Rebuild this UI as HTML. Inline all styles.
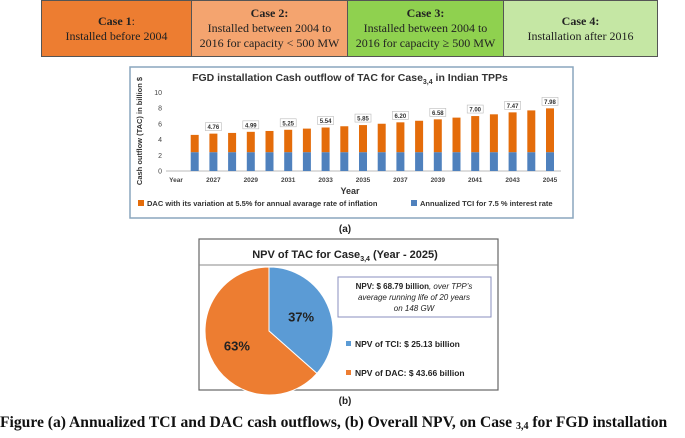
<!DOCTYPE html>
<html><head><meta charset="utf-8"><style>
body{margin:0;width:685px;height:438px;background:#fff;position:relative;overflow:hidden;font-family:"Liberation Sans",sans-serif}
.case{position:absolute;top:0;height:57px;border:1px solid #555;box-sizing:border-box;font-family:"Liberation Serif",serif;font-size:12px;text-align:center;display:flex;align-items:center;justify-content:center;line-height:15px;color:#222}
</style></head><body>
<div class="case" style="left:41px;width:151px;background:#ED7D31"><div><b>Case 1</b>:<br>Installed before 2004</div></div>
<div class="case" style="left:191px;width:157px;background:#F4A46F"><div><b>Case 2:</b><br>Installed between 2004 to<br>2016 for capacity &lt; 500 MW</div></div>
<div class="case" style="left:347px;width:157px;background:#8FD14F"><div><b>Case 3:</b><br>Installed between 2004 to<br>2016 for capacity ≥ 500 MW</div></div>
<div class="case" style="left:503px;width:155px;background:#C5E7A4"><div><b>Case 4:</b><br>Installation after 2016</div></div>

<svg id="chart" width="685" height="438" style="position:absolute;left:0;top:0" font-family="Liberation Sans, sans-serif">
<rect x="130" y="67" width="443" height="151" fill="#fff" stroke="#8aa6bd" stroke-width="1.5"/>
<text x="350" y="81" text-anchor="middle" font-size="10.5" font-weight="bold" fill="#333">FGD installation Cash outflow of TAC for Case<tspan font-size="7" dy="3">3,4</tspan><tspan dy="-3"> in Indian TPPs</tspan></text>
<text transform="translate(142,131) rotate(-90)" text-anchor="middle" font-size="7.5" font-weight="bold" fill="#333">Cash outflow (TAC)  in billion $</text>
<text x="350" y="194" text-anchor="middle" font-size="9" font-weight="bold" fill="#333">Year</text>
<g id="bars"></g>
<rect x="138" y="200" width="6" height="6" fill="#E46C0A"/>
<text x="147" y="206" font-size="7.5" font-weight="bold" fill="#333">DAC with its variation at 5.5% for annual avarage rate of inflation</text>
<rect x="411" y="200" width="6" height="6" fill="#4F81BD"/>
<text x="420" y="206" font-size="7.5" font-weight="bold" fill="#333">Annualized TCI for 7.5 % interest rate</text>
<text x="345" y="232" text-anchor="middle" font-size="10" font-weight="bold" fill="#222">(a)</text>

<rect x="199" y="239" width="299" height="151" fill="#fff" stroke="#666" stroke-width="1.2"/>
<line x1="199" y1="265" x2="498" y2="265" stroke="#888"/>
<text x="345" y="258" text-anchor="middle" font-size="11" font-weight="bold" fill="#222">NPV of TAC for Case<tspan font-size="7" dy="3">3,4</tspan><tspan dy="-3">  (Year - 2025)</tspan></text>
<g id="pie"></g>
<rect x="338" y="277" width="153" height="40" fill="#fff" stroke="#8a8fbf"/>
<text x="414" y="289" text-anchor="middle" font-size="8" fill="#222"><tspan font-weight="bold">NPV: $ 68.79 billion</tspan><tspan font-style="italic">, over TPP’s</tspan><tspan x="414" dy="11" font-style="italic">average running  life of 20 years</tspan><tspan x="414" dy="11" font-style="italic">on 148 GW</tspan></text>
<rect x="346" y="341" width="5" height="5" fill="#5B9BD5"/>
<text x="355" y="347" font-size="8.5" font-weight="bold" fill="#222">NPV of TCI:  $ 25.13 billion</text>
<rect x="346" y="370" width="5" height="5" fill="#ED7D31"/>
<text x="355" y="376" font-size="8.5" font-weight="bold" fill="#222">NPV of DAC:  $ 43.66 billion</text>
<text x="345" y="404" text-anchor="middle" font-size="10" font-weight="bold" fill="#222">(b)</text>
<text x="0" y="427" font-family="Liberation Serif, serif" font-size="15.6" font-weight="bold" fill="#111">Figure  (a) Annualized TCI and DAC cash outflows, (b) Overall NPV, on Case <tspan font-size="10" dy="2">3,4</tspan><tspan dy="-2"> for FGD installation</tspan></text>
</svg>
<script>
const categories=["Year","2026","2027","2028","2029","2030","2031","2032","2033","2034","2035","2036","2037","2038","2039","2040","2041","2042","2043","2044","2045"];
const tciValues=[0,2.4,2.4,2.4,2.4,2.4,2.4,2.4,2.4,2.4,2.4,2.4,2.4,2.4,2.4,2.4,2.4,2.4,2.4,2.4,2.4];
const totalValues=[0,4.6,4.76,4.85,4.99,5.1,5.25,5.4,5.54,5.7,5.85,6.02,6.2,6.4,6.58,6.8,7.0,7.22,7.47,7.72,7.98];
const labelled=[2,4,6,8,10,12,14,16,18,20];
const yTicks=[0,2,4,6,8,10];
const pieValues=[25.13,43.66];
const piePct=["37%","63%"];
const NS="http://www.w3.org/2000/svg";
function y(v){return 171-v*7.85;}
function x(i){return 176+i*18.7;}
const g=document.getElementById('bars');
function mk(t,a,p){const e=document.createElementNS(NS,t);for(const k in a)e.setAttribute(k,a[k]);(p||g).appendChild(e);return e;}
yTicks.forEach(v=>{const t=mk('text',{x:162,y:y(v)+2.5,'text-anchor':'end','font-size':7,fill:'#444'});t.textContent=v;

});
mk('line',{x1:166,x2:561,y1:171,y2:171,stroke:'#bbb'});
categories.forEach((c,i)=>{
 if(i===0||i%2===0){const t=mk('text',{x:x(i),y:182,'text-anchor':'middle','font-size':6.5,'font-weight':'bold',fill:'#444'});t.textContent=c;
 
 }
 if(i===0)return;
 const b=mk('rect',{x:x(i)-4,y:y(tciValues[i]),width:8,height:171-y(tciValues[i]),fill:'#4F81BD'});
 
 
 const d=mk('rect',{x:x(i)-4,y:y(totalValues[i]),width:8,height:y(tciValues[i])-y(totalValues[i]),fill:'#E46C0A'});
 
 
 if(labelled.includes(i)){
  mk('rect',{x:x(i)-8,y:y(totalValues[i])-11,width:16,height:8,fill:'#fff',stroke:'#bbb','stroke-width':0.6});
  const t=mk('text',{x:x(i),y:y(totalValues[i])-4.5,'text-anchor':'middle','font-size':6,'font-weight':'bold',fill:'#333'});
  t.textContent=totalValues[i].toFixed(2);
  
  
 }
});
const pg=document.getElementById('pie');
const cx=269,cy=331,r=64,tot=pieValues[0]+pieValues[1],cols=['#5B9BD5','#ED7D31'];
let a0=-Math.PI/2;
pieValues.forEach((v,i)=>{
 const a1=a0+v/tot*2*Math.PI;const large=(a1-a0)>Math.PI?1:0;
 const p=mk('path',{d:`M${cx},${cy} L${cx+r*Math.cos(a0)},${cy+r*Math.sin(a0)} A${r},${r} 0 ${large} 1 ${cx+r*Math.cos(a1)},${cy+r*Math.sin(a1)} Z`,fill:cols[i],stroke:'#fff','stroke-width':1},pg);
 
 
 const am=(a0+a1)/2,lr=r*0.55;
 const t=mk('text',{x:cx+lr*Math.cos(am),y:cy+lr*Math.sin(am)+5,'text-anchor':'middle','font-size':13,'font-weight':'bold',fill:'#222'},pg);
 t.textContent=piePct[i];
 
 
 a0=a1;
});
</script>
</body></html>
